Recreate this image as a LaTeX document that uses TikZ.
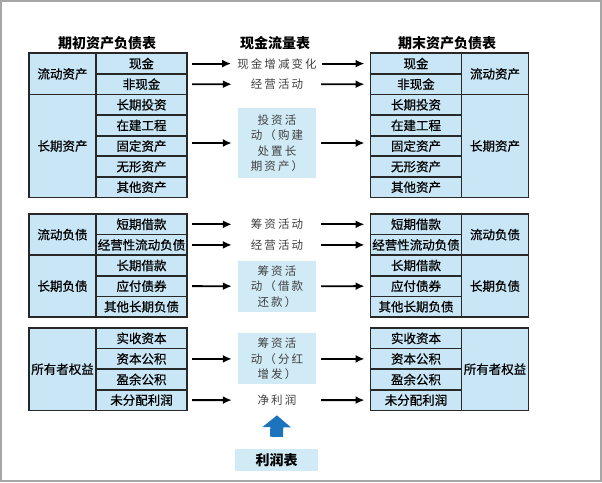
\documentclass[tikz,border=0pt]{standalone}
\usepackage{fontspec}
\usepackage{tikz}
\usetikzlibrary{arrows.meta}
\setmainfont{Noto Sans CJK SC}
\newfontfamily\cellfont[FakeBold=0.6]{Noto Sans CJK SC}
\newfontfamily\midfont[LetterSpace=18]{Noto Sans CJK SC}
\definecolor{cellblue}{RGB}{200,230,245}
\definecolor{boxblue}{RGB}{208,234,246}
\definecolor{lineblack}{RGB}{40,40,40}
\definecolor{arrowblue}{RGB}{28,117,188}

\begin{document}
\begin{tikzpicture}[x=1pt,y=-1pt,
	cell/.style={draw=lineblack, line width=1.7pt, fill=cellblue, inner sep=0pt, outer sep=0pt,
		minimum width=91pt, minimum height=20.6pt, font=\cellfont\fontsize{12.5}{14}\selectfont},
	group/.style={cell, minimum width=67pt},
	title/.style={font=\fontsize{14}{16}\selectfont\bfseries},
	flowtext/.style={inner sep=0pt, minimum width=78pt, minimum height=16pt, align=center,
		text=black!75, font=\midfont\fontsize{11.5}{15.5}\selectfont},
	flowbox/.style={flowtext, fill=boxblue},
	flow/.style={-{Latex[length=9pt,width=8pt]}, line width=1.8pt, shorten <=5pt, shorten >=6pt}
]
	\useasboundingbox (0,0) rectangle (602,482);
	\draw[gray!70, line width=1.5pt] (1,1) rectangle (601,481);

	% TITLES
	\node[title] (tOpen) at (107,43) {期初资产负债表};
	\node[title] (tCash) at (275,43) {现金流量表};
	\node[title] (tClose) at (447,43) {期末资产负债表};

	% ASSETS
	\foreach \lbl [count=\i from 0] in {现金,非现金,长期投资,在建工程,固定资产,无形资产,其他资产} {
		\node[cell] (a\i) at (141.5,63.6+20.6*\i) {\lbl};
		\node[cell] (b\i) at (416,63.6+20.6*\i) {\lbl};
	}
	\node[group, minimum height=41.2pt, anchor=north east] (aCur) at (a0.north west) {流动资产};
	\node[group, minimum height=103pt, anchor=north east] (aLong) at (a2.north west) {长期资产};
	\node[group, minimum height=41.2pt, anchor=north west] (bCur) at (b0.north east) {流动资产};
	\node[group, minimum height=103pt, anchor=north west] (bLong) at (b2.north east) {长期资产};

	\node[flowtext] (mCash) at (277,63.6) {现金增减变化};
	\node[flowtext] (mOper) at (277,84.2) {经营活动};
	\node[flowbox, minimum height=70pt] (mInvest) at (277,143) {投资活\\动（购建\\处置长\\期资产）};

	\draw[flow] (a0) -- (mCash);
	\draw[flow] (mCash) -- (b0);
	\draw[flow] (a1) -- (mOper);
	\draw[flow] (mOper) -- (b1);
	\draw[flow] (mInvest.west -| a4.east) -- (mInvest.west);
	\draw[flow] (mInvest.east) -- (mInvest.east -| b4.west);

	% LIABILITIES
	\foreach \lbl [count=\i from 0] in {短期借款,经营性流动负债,长期借款,应付债券,其他长期负债} {
		\node[cell] (c\i) at (141.5,224.3+20.6*\i) {\lbl};
		\node[cell] (d\i) at (416,224.3+20.6*\i) {\lbl};
	}
	\node[group, minimum height=41.2pt, anchor=north east] (cCur) at (c0.north west) {流动负债};
	\node[group, minimum height=61.8pt, anchor=north east] (cLong) at (c2.north west) {长期负债};
	\node[group, minimum height=41.2pt, anchor=north west] (dCur) at (d0.north east) {流动负债};
	\node[group, minimum height=61.8pt, anchor=north west] (dLong) at (d2.north east) {长期负债};

	\node[flowtext] (mFin) at (277,224.3) {筹资活动};
	\node[flowtext] (mOperB) at (277,244.9) {经营活动};
	\node[flowbox, minimum height=51pt] (mDebt) at (277,286.2) {筹资活\\动（借款\\还款）};

	\draw[flow] (c0) -- (mFin);
	\draw[flow] (mFin) -- (d0);
	\draw[flow] (c1) -- (mOperB);
	\draw[flow] (mOperB) -- (d1);
	\draw[flow] (c3) -- (mDebt);
	\draw[flow] (mDebt) -- (d3);

	% OWNERS' EQUITY
	\foreach \lbl [count=\i from 0] in {实收资本,资本公积,盈余公积,未分配利润} {
		\node[cell] (e\i) at (141.5,338.3+20.6*\i) {\lbl};
		\node[cell] (f\i) at (416,338.3+20.6*\i) {\lbl};
	}
	\node[group, minimum height=82.4pt, anchor=north east] (eOwn) at (e0.north west) {所有者权益};
	\node[group, minimum height=82.4pt, anchor=north west] (fOwn) at (f0.north east) {所有者权益};

	\node[flowbox, minimum height=51pt] (mEquity) at (277,358.9) {筹资活\\动（分红\\增发）};
	\node[flowtext] (mNet) at (277,400.1) {净利润};

	\draw[flow] (e1) -- (mEquity);
	\draw[flow] (mEquity) -- (f1);
	\draw[flow] (e3) -- (mNet);
	\draw[flow] (mNet) -- (f3);

	% INCOME STATEMENT
	\node[fill=boxblue, minimum width=83pt, minimum height=22pt, inner sep=0pt,
		font=\fontsize{14}{16}\selectfont\bfseries] (profit) at (276.5,460) {利润表};
	\draw[-{Triangle[width=28pt,length=12pt]}, line width=13pt, draw=arrowblue, fill=arrowblue,
		shorten <=12pt, shorten >=7pt] (profit.north) -- (mNet.south);
\end{tikzpicture}
\end{document}
